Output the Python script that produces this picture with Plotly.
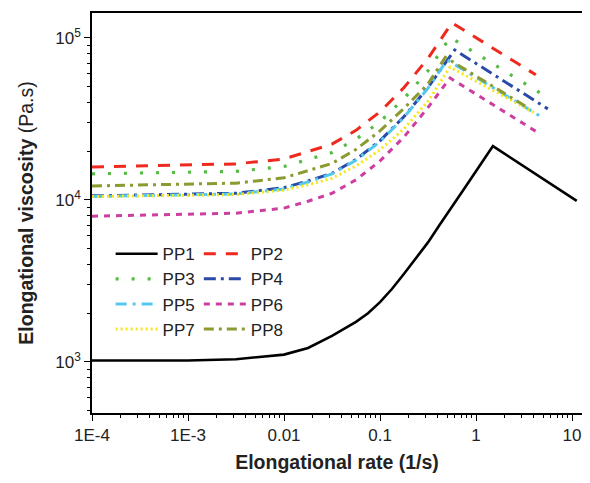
import plotly.graph_objects as go

# ---- data ----
rate_grid = [1e-4, 1e-3, 0.00316, 0.01, 0.0178, 0.0316, 0.0562, 0.1, 0.178, 0.316]

pp1_rate = [1e-4, 1e-3, 0.00316, 0.01, 0.0178, 0.0316, 0.0562, 0.075, 0.1, 0.133,
            0.178, 0.237, 0.316, 0.422, 0.562, 0.75, 1.5, 11.2]
pp1_visc = [1020, 1020, 1040, 1110, 1220, 1450, 1770, 2000, 2340, 2820,
            3500, 4370, 5470, 7080, 9040, 11700, 21500, 9860]

pp2_visc = [16000, 16400, 16700, 17900, 19800, 22100, 26900, 35000, 49400, 74800]
pp2_tail_rate = [0.562, 4.2]
pp2_tail_visc = [124000, 59200]

pp3_visc = [14500, 14800, 15000, 16100, 17700, 19600, 23700, 30400, 42300, 62700]
pp3_tail_rate = [0.537, 5.2]
pp3_tail_visc = [101000, 43900]

pp4_visc = [10600, 10800, 11000, 11900, 13100, 14600, 17800, 23200, 32700, 49500]
pp4_tail_rate = [0.60, 5.6]
pp4_tail_visc = [84300, 36500]

pp5_visc = [10500, 10700, 10900, 11700, 12900, 14500, 17600, 22900, 32400, 49000]
pp5_tail_rate = [0.50, 5.0]
pp5_tail_visc = [73100, 32100]

pp6_visc = [7940, 8130, 8280, 8910, 9820, 11000, 13300, 17400, 24500, 37200]
pp6_tail_rate = [0.537, 4.3]
pp6_tail_visc = [56600, 26300]

pp7_visc = [10500, 10700, 10800, 11500, 12400, 13600, 16200, 20400, 27500, 40700]
pp7_tail_rate = [0.537, 4.0]
pp7_tail_visc = [66100, 34700]

pp8_visc = [12200, 12500, 12700, 13700, 15100, 16800, 20500, 26700, 36800, 52000]
pp8_tail_rate = [0.479, 3.55]
pp8_tail_visc = [75900, 36800]

x_tickvals = [1e-4, 1e-3, 1e-2, 1e-1, 1, 10]
x_ticktext = ["1E-4", "1E-3", "0.01", "0.1", "1", "10"]
y_tickvals = [1e3, 1e4, 1e5]
y_ticktext = ["10<sup>3</sup>", "10<sup>4</sup>", "10<sup>5</sup>"]

FONT = "Liberation Sans, Arial, sans-serif"

series = [
    ("PP1", pp1_rate, pp1_visc, "#000000", "solid", 2.6, "legend"),
    ("PP2", rate_grid + pp2_tail_rate, pp2_visc + pp2_tail_visc, "#ee2a1e", "12px,10px", 3, "legend2"),
    ("PP3", rate_grid + pp3_tail_rate, pp3_visc + pp3_tail_visc, "#55bb44", "3px,13px", 3.2, "legend"),
    ("PP4", rate_grid + pp4_tail_rate, pp4_visc + pp4_tail_visc, "#2b4aa8", "12px,5px,3px,5px", 3, "legend2"),
    ("PP5", rate_grid + pp5_tail_rate, pp5_visc + pp5_tail_visc, "#55c8ee", "11px,6px,3px,6px", 3, "legend"),
    ("PP6", rate_grid + pp6_tail_rate, pp6_visc + pp6_tail_visc, "#cc3fa0", "6px,6px", 3, "legend2"),
    ("PP7", rate_grid + pp7_tail_rate, pp7_visc + pp7_tail_visc, "#f5e61a", "2px,3px", 3, "legend"),
    ("PP8", rate_grid + pp8_tail_rate, pp8_visc + pp8_tail_visc, "#8c9a30", "10px,5px,3px,5px", 3, "legend2"),
]

fig = go.Figure()
for name, xs, ys, color, dash, width, leg in series:
    fig.add_trace(go.Scatter(
        x=xs, y=ys, mode="lines", name=name,
        line=dict(color=color, dash=dash, width=width),
        legend=leg,
    ))

axis_common = dict(
    type="log", showgrid=False, zeroline=False, automargin=False,
    showline=True, linecolor="black", linewidth=1.5, mirror=True,
    ticks="outside", ticklen=6, tickwidth=1.3, tickcolor="black",
    tickfont=dict(family=FONT, size=17, color="#222"),
)

fig.update_xaxes(
    **axis_common,
    range=[-4, 1.104],
    tickvals=x_tickvals, ticktext=x_ticktext,
    minor=dict(ticks="outside", ticklen=3.5, tickwidth=1.2, tickcolor="black", dtick="D1"),
    title=dict(text="<b>Elongational rate (1/s)</b>", font=dict(family=FONT, size=19.5, color="#222"), standoff=11),
)
fig.update_yaxes(
    **axis_common,
    range=[2.685, 5.154],
    tickvals=y_tickvals, ticktext=y_ticktext,
    minor=dict(ticks="outside", ticklen=3.5, tickwidth=1.2, tickcolor="black", dtick="D1"),
    title=dict(text="<b>Elongational viscosity</b> (Pa.s)", font=dict(family=FONT, size=19.5, color="#222"), standoff=16),
)

legend_common = dict(
    font=dict(family=FONT, size=17, color="#222"),
    bgcolor="rgba(0,0,0,0)", borderwidth=0,
    orientation="v", xanchor="left", yanchor="top",
    tracegroupgap=0, itemwidth=42,
)
# page body has an 8px default margin, so the figure is offset by (8, 8)
fig.update_layout(
    width=582, height=475,
    margin=dict(l=84, r=8, t=5, b=70),
    paper_bgcolor="white", plot_bgcolor="white",
    legend=dict(x=0.038, y=0.442, **legend_common),
    legend2=dict(x=0.218, y=0.442, **legend_common),
)

fig.write_html("out.html")
